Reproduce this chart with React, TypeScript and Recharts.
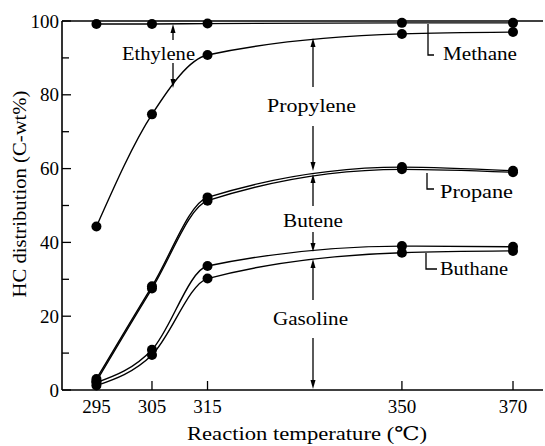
import React from 'react'
import { LineChart, Line, XAxis, YAxis, ReferenceLine } from 'recharts'

// reaction temperature (°C)
const temps = [295, 305, 315, 350, 370]
// cumulative HC distribution boundaries (C-wt%)
const methaneTop = [99.2, 99.2, 99.3, 99.5, 99.5]
const ethyleneLow = [44.3, 74.7, 90.8, 96.5, 97.0]
const propyleneLow = [3.0, 28.1, 52.2, 60.4, 59.4]
const propaneLow = [2.4, 27.5, 51.3, 59.8, 59.0]
const buteneLow = [2.0, 10.9, 33.6, 39.0, 38.8]
const buthaneLow = [1.2, 9.5, 30.2, 37.2, 37.7]

const xTicks = [295, 305, 315, 350, 370]
const yTicks = [0, 10, 20, 30, 40, 50, 60, 70, 80, 90, 100]

const series = [
  { key: 'methaneTop', values: methaneTop },
  { key: 'ethyleneLow', values: ethyleneLow },
  { key: 'propyleneLow', values: propyleneLow },
  { key: 'propaneLow', values: propaneLow },
  { key: 'buteneLow', values: buteneLow },
  { key: 'buthaneLow', values: buthaneLow },
]

const data = temps.map((t, i) => {
  const row: Record<string, number> = { temp: t }
  series.forEach((s) => (row[s.key] = s.values[i]))
  return row
})

const W = 545
const H = 446
const LEFT = 62
const TOP = 21
const BOTTOM = 390
const FONT = "'Liberation Serif', 'Times New Roman', 'DejaVu Serif', serif"
const txt = { fontFamily: FONT, fontSize: 19, fill: '#000' }

const YTick = ({ y, payload }: any) => {
  const major = payload.value % 20 === 0
  return (
    <g>
      <line x1={LEFT} x2={LEFT + (major ? 9 : 7)} y1={y} y2={y} stroke="#000" strokeWidth={1.3} />
      {major && (
        <text x={LEFT - 3} y={y} dy="0.35em" textAnchor="end" style={txt}>
          {payload.value}
        </text>
      )}
    </g>
  )
}

const XTick = ({ x, payload }: any) => (
  <g>
    <line x1={x} x2={x} y1={BOTTOM} y2={BOTTOM - 9} stroke="#000" strokeWidth={1.3} />
    <text x={x} y={413} textAnchor="middle" style={txt}>
      {payload.value}
    </text>
  </g>
)

const Arrow = ({ x, from, to }: { x: number; from: number; to: number }) => {
  const dir = to > from ? 1 : -1
  return (
    <g>
      <line x1={x} x2={x} y1={from} y2={to - dir * 6} stroke="#000" strokeWidth={1.3} />
      <polygon points={`${x - 2.5},${to - dir * 9} ${x + 2.5},${to - dir * 9} ${x},${to}`} fill="#000" />
    </g>
  )
}

const Label = ({ x, y, w, children }: any) => (
  <text x={x} y={y} dy="0.35em" style={txt} textLength={w} lengthAdjust="spacingAndGlyphs">
    {children}
  </text>
)

const Annotations = () => (
  <svg width={W} height={H} style={{ position: 'absolute', left: 0, top: 0, pointerEvents: 'none' }}>
    <Label x={122} y={53} w={73}>Ethylene</Label>
    <Arrow x={173} from={40} to={24} />
    <Arrow x={173} from={63} to={88} />

    <Label x={267} y={105} w={89}>Propylene</Label>
    <Arrow x={313} from={87} to={38} />
    <Arrow x={313} from={126} to={171} />

    <Label x={283} y={220} w={60}>Butene</Label>
    <Arrow x={313} from={206} to={174} />
    <Arrow x={313} from={232} to={252} />

    <Label x={273} y={318} w={75}>Gasoline</Label>
    <Arrow x={313} from={300} to={259} />
    <Arrow x={313} from={338} to={389} />

    <path d="M428 24 V55 H434" fill="none" stroke="#000" strokeWidth={1.3} />
    <Label x={443} y={53} w={74}>Methane</Label>
    <path d="M427 173 V189 H434" fill="none" stroke="#000" strokeWidth={1.3} />
    <Label x={440} y={191} w={73}>Propane</Label>
    <path d="M426 253 V269 H437" fill="none" stroke="#000" strokeWidth={1.3} />
    <Label x={440} y={268} w={68}>Buthane</Label>

    <text
      x={0}
      y={0}
      transform="translate(19,194) rotate(-90)"
      dy="0.35em"
      textAnchor="middle"
      style={txt}
      textLength={207}
      lengthAdjust="spacingAndGlyphs"
    >
      HC distribution (C-wt%)
    </text>
    <text x={187} y={440} style={txt} textLength={240} lengthAdjust="spacingAndGlyphs">
      Reaction temperature (℃)
    </text>
  </svg>
)

export default function App() {
  return (
    <div style={{ position: 'absolute', left: 0, top: 0, width: W, height: H, background: '#fff' }}>
      <LineChart width={W} height={H} data={data} margin={{ top: TOP, right: 2, left: 0, bottom: 0 }}>
        <XAxis
          dataKey="temp"
          type="number"
          domain={[288.8, 375.4]}
          ticks={xTicks}
          height={H - BOTTOM}
          tickLine={false}
          axisLine={{ stroke: '#000', strokeWidth: 1.6 }}
          tick={<XTick />}
          interval={0}
        />
        <YAxis
          type="number"
          domain={[0, 100]}
          ticks={yTicks}
          width={LEFT}
          tickLine={false}
          axisLine={{ stroke: '#000', strokeWidth: 1.6 }}
          tick={<YTick />}
          interval={0}
        />
        <ReferenceLine y={100} stroke="#000" strokeWidth={1.6} />
        {series.map((s) => (
          <Line
            key={s.key}
            dataKey={s.key}
            type="monotone"
            stroke="#000"
            strokeWidth={1.4}
            dot={{ r: 5, fill: '#000', stroke: '#000', strokeWidth: 0 }}
            activeDot={false}
            isAnimationActive={false}
          />
        ))}
      </LineChart>
      <Annotations />
    </div>
  )
}
